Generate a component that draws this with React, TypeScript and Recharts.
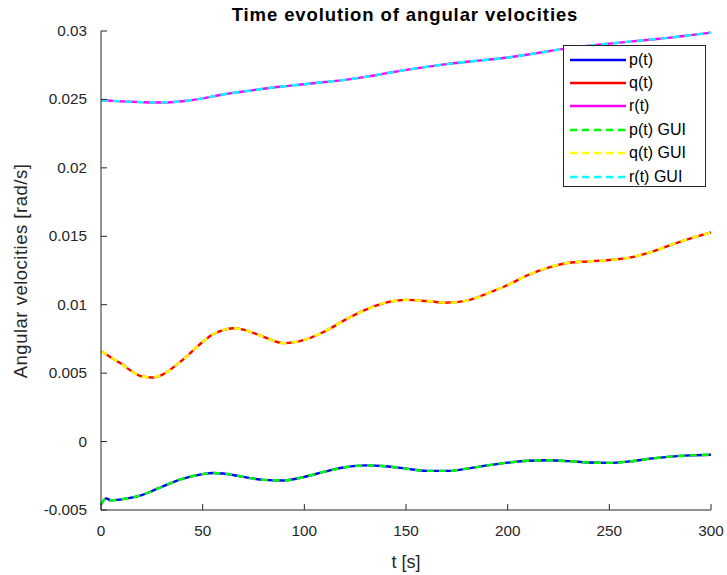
import { Line, LineChart, XAxis, YAxis } from "recharts";

// time samples [s]
const time = [
  0, 2.5, 5, 10, 15, 20, 25, 30, 40, 50, 55, 60, 65, 70, 80, 90, 100, 110, 120, 130, 140, 150,
  160, 170, 180, 190, 200, 210, 220, 230, 240, 250, 260, 270, 280, 290, 300,
];

const pValues = [
  -0.0046, -0.00415, -0.0043, -0.00422, -0.0041, -0.00392, -0.00362, -0.0033, -0.00272, -0.00238,
  -0.0023, -0.00233, -0.00244, -0.00258, -0.0028, -0.00284, -0.00258, -0.0022, -0.00188, -0.00174,
  -0.0018, -0.00198, -0.00214, -0.00214, -0.00198, -0.00174, -0.00154, -0.0014, -0.00137, -0.00143,
  -0.00153, -0.00156, -0.00145, -0.00125, -0.0011, -0.00101, -0.00096,
];

const qValues = [
  0.0066, 0.00638, 0.00614, 0.00568, 0.00515, 0.00476, 0.00468, 0.00488, 0.00595, 0.00728, 0.00784,
  0.00815, 0.00828, 0.00818, 0.00765, 0.00719, 0.00743, 0.00804, 0.00889, 0.00962, 0.01015, 0.01035,
  0.01027, 0.01015, 0.0103, 0.01083, 0.01144, 0.01217, 0.01271, 0.01307, 0.01317, 0.01327, 0.01344,
  0.01383, 0.01436, 0.01485, 0.01529,
];

const rValues = [
  0.02494, 0.02492, 0.0249, 0.02486, 0.02483, 0.0248, 0.02478, 0.02478, 0.02487, 0.02508, 0.02522,
  0.02536, 0.02548, 0.02558, 0.02578, 0.02596, 0.02611, 0.02627, 0.02643, 0.02665, 0.0269, 0.02716,
  0.02738, 0.02758, 0.02775, 0.0279, 0.02806, 0.02828, 0.02852, 0.02875, 0.02893, 0.02908, 0.02922,
  0.02937, 0.02952, 0.0297, 0.02988,
];

const xTicks = [0, 50, 100, 150, 200, 250, 300];
const yTicks = [-0.005, 0, 0.005, 0.01, 0.015, 0.02, 0.025, 0.03];

const series = [
  { key: "p", label: "p(t)", color: "#0000FF", dashed: false },
  { key: "q", label: "q(t)", color: "#FF0000", dashed: false },
  { key: "r", label: "r(t)", color: "#FF00FF", dashed: false },
  { key: "pGui", label: "p(t) GUI", color: "#00FF00", dashed: true },
  { key: "qGui", label: "q(t) GUI", color: "#FFFF00", dashed: true },
  { key: "rGui", label: "r(t) GUI", color: "#00FFFF", dashed: true },
];

const data = time.map((t, i) => ({
  t,
  p: pValues[i],
  q: qValues[i],
  r: rValues[i],
  pGui: pValues[i],
  qGui: qValues[i],
  rGui: rValues[i],
}));

const W = 727;
const H = 575;
const LEFT = 101;
const RIGHT = 711;
const TOP = 31;
const BOTTOM = 510;
const AXIS = "#262626";
const TICK_FONT = 15.3;
const DASH = "7 5";

function BottomTick({ x, payload }: any) {
  return (
    <g>
      <line x1={x} x2={x} y1={BOTTOM} y2={BOTTOM - 6} stroke={AXIS} />
      <text x={x} y={BOTTOM + 26} textAnchor="middle" fontSize={TICK_FONT} fill={AXIS}>
        {payload.value}
      </text>
    </g>
  );
}

function TopTick({ x }: any) {
  return <line x1={x} x2={x} y1={TOP} y2={TOP + 6} stroke={AXIS} />;
}

function LeftTick({ y, payload }: any) {
  return (
    <g>
      <line x1={LEFT} x2={LEFT + 6} y1={y} y2={y} stroke={AXIS} />
      <text x={LEFT - 14} y={y + 5} textAnchor="end" fontSize={TICK_FONT} fill={AXIS}>
        {payload.value}
      </text>
    </g>
  );
}

function RightTick({ y }: any) {
  return <line x1={RIGHT} x2={RIGHT - 6} y1={y} y2={y} stroke={AXIS} />;
}

function LegendBox() {
  return (
    <div
      style={{
        position: "absolute",
        left: 563,
        top: 45,
        width: 143,
        height: 142,
        border: `1px solid ${AXIS}`,
        background: "#fff",
        boxSizing: "border-box",
        paddingTop: 2,
      }}
    >
      {series.map((s) => (
        <div key={s.key} style={{ display: "flex", alignItems: "center", height: 23.4 }}>
          <svg width={65} height={10} style={{ flexShrink: 0 }}>
            <line
              x1={6}
              x2={62}
              y1={5}
              y2={5}
              stroke={s.color}
              strokeWidth={2.5}
              strokeDasharray={s.dashed ? DASH : undefined}
            />
          </svg>
          <span style={{ fontSize: 16, color: "#000", whiteSpace: "nowrap" }}>{s.label}</span>
        </div>
      ))}
    </div>
  );
}

export default function App() {
  return (
    <div
      style={{
        position: "absolute",
        left: 0,
        top: 0,
        width: W,
        height: H,
        background: "#fff",
        fontFamily: '"Liberation Sans", Arial, sans-serif',
      }}
    >
      <LineChart width={W} height={H} data={data} margin={{ top: TOP, right: W - RIGHT, bottom: 0, left: 0 }}>
        <XAxis
          xAxisId="b"
          dataKey="t"
          type="number"
          domain={[0, 300]}
          ticks={xTicks}
          height={H - BOTTOM}
          tickLine={false}
          axisLine={{ stroke: AXIS }}
          tick={<BottomTick />}
        />
        <XAxis
          xAxisId="t"
          orientation="top"
          dataKey="t"
          type="number"
          domain={[0, 300]}
          ticks={xTicks}
          height={0}
          tickLine={false}
          axisLine={{ stroke: AXIS }}
          tick={<TopTick />}
        />
        <YAxis
          yAxisId="l"
          type="number"
          domain={[-0.005, 0.03]}
          ticks={yTicks}
          width={LEFT}
          tickLine={false}
          axisLine={{ stroke: AXIS }}
          tick={<LeftTick />}
        />
        <YAxis
          yAxisId="r"
          orientation="right"
          type="number"
          domain={[-0.005, 0.03]}
          ticks={yTicks}
          width={0}
          tickLine={false}
          axisLine={{ stroke: AXIS }}
          tick={<RightTick />}
        />
        {series.map((s) => (
          <Line
            key={s.key}
            xAxisId="b"
            yAxisId="l"
            dataKey={s.key}
            type="monotone"
            stroke={s.color}
            strokeWidth={2.4}
            strokeDasharray={s.dashed ? DASH : undefined}
            dot={false}
            activeDot={false}
            isAnimationActive={false}
          />
        ))}
      </LineChart>
      <LegendBox />
      <div
        style={{
          position: "absolute",
          left: 405,
          top: 15,
          transform: "translate(-50%, -50%)",
          fontWeight: "bold",
          fontSize: 18.5,
          letterSpacing: 0.9,
          whiteSpace: "nowrap",
          color: "#000",
        }}
      >
        Time evolution of angular velocities
      </div>
      <div
        style={{
          position: "absolute",
          left: 406,
          top: 562,
          transform: "translate(-50%, -50%)",
          fontSize: 18,
          whiteSpace: "nowrap",
          color: AXIS,
        }}
      >
        t [s]
      </div>
      <div
        style={{
          position: "absolute",
          left: 21,
          top: 271,
          transform: "translate(-50%, -50%) rotate(-90deg)",
          fontSize: 18.5,
          letterSpacing: 0.5,
          whiteSpace: "nowrap",
          color: AXIS,
        }}
      >
        Angular velocities [rad/s]
      </div>
    </div>
  );
}
